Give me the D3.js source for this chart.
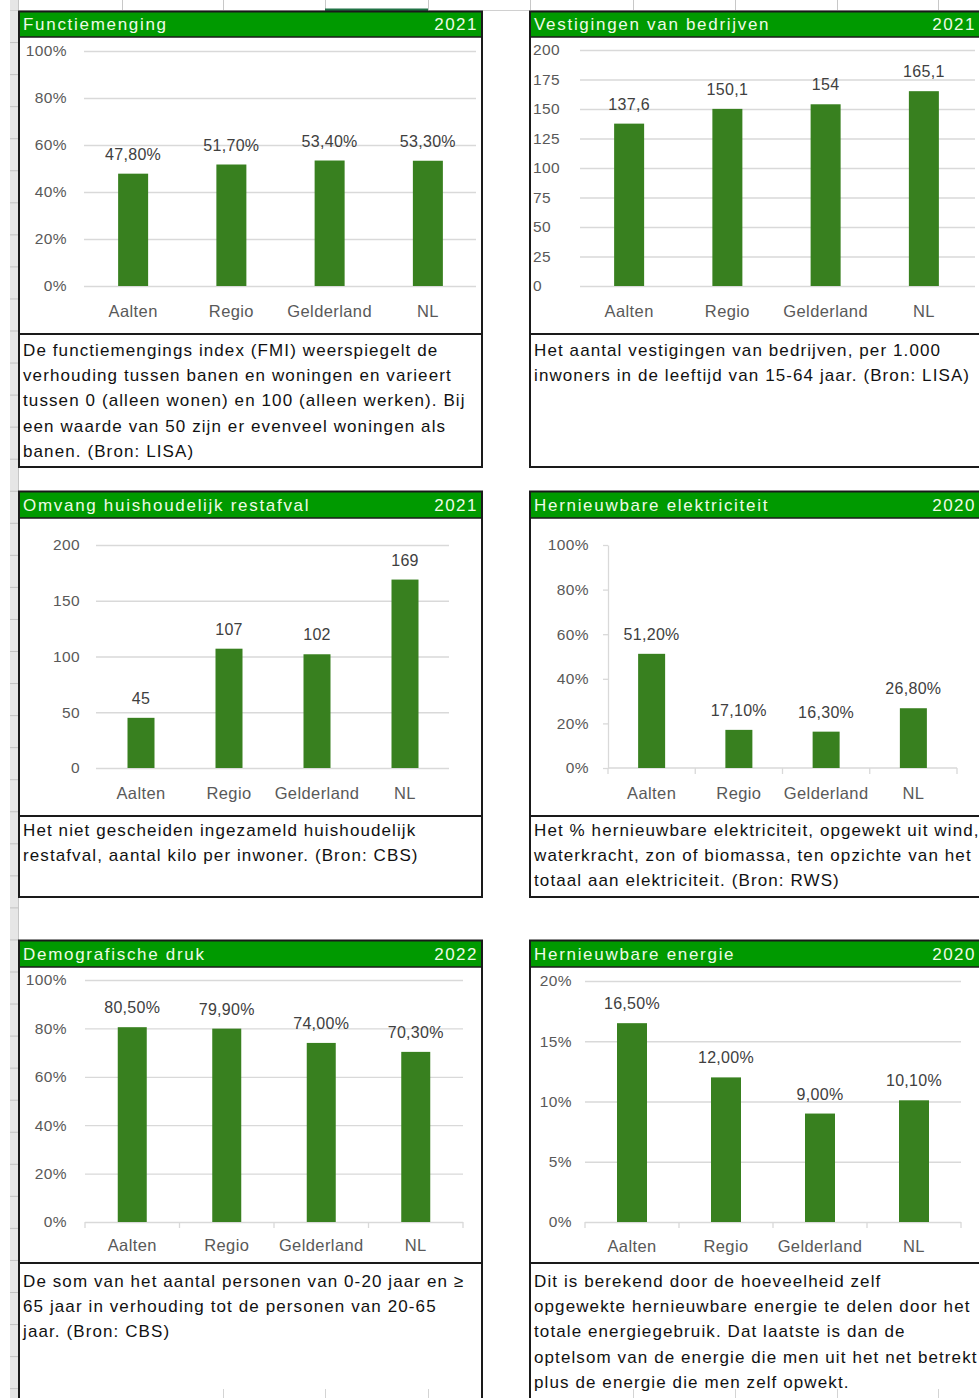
<!DOCTYPE html>
<html>
<head>
<meta charset="utf-8">
<script src="https://cdn.jsdelivr.net/npm/d3@7"></script>
<style>
  body { margin: 0; background: #fff; }
  svg { display: block; font-family: "Liberation Sans", Arial, sans-serif; }
</style>
</head>
<body>
<svg id="sheet" width="979" height="1398"></svg>
<script>
const categories = ["Aalten", "Regio", "Gelderland", "NL"];
const fmValues = [0.478, 0.517, 0.534, 0.533];
const vestigingenValues = [137.6, 150.1, 154, 165.1];
const restafvalValues = [45, 107, 102, 169];
const elektriciteitValues = [0.512, 0.171, 0.163, 0.268];
const demografieValues = [0.805, 0.799, 0.740, 0.703];
const energieValues = [0.165, 0.120, 0.090, 0.101];

// tick waarden
const pctTicks = [0, 0.2, 0.4, 0.6, 0.8, 1];
const vestigingenTicks = [0, 25, 50, 75, 100, 125, 150, 175, 200];
const restafvalTicks = [0, 50, 100, 150, 200];
const energieTicks = [0, 0.05, 0.10, 0.15, 0.20];

// titels, jaren en toelichting
const titles = ["Functiemenging", "Vestigingen van bedrijven", "Omvang huishoudelijk restafval",
  "Hernieuwbare elektriciteit", "Demografische druk", "Hernieuwbare energie"];
const years = ["2021", "2021", "2021", "2020", "2022", "2020"];
const descriptions = [
  ["De functiemengings index (FMI) weerspiegelt de", "verhouding tussen banen en woningen en varieert",
   "tussen 0 (alleen wonen) en 100 (alleen werken). Bij", "een waarde van 50 zijn er evenveel woningen als",
   "banen. (Bron: LISA)"],
  ["Het aantal vestigingen van bedrijven, per 1.000", "inwoners  in de leeftijd van 15-64 jaar. (Bron: LISA)"],
  ["Het niet gescheiden ingezameld huishoudelijk", "restafval, aantal kilo per inwoner. (Bron: CBS)"],
  ["Het % hernieuwbare elektriciteit, opgewekt uit wind,", "waterkracht, zon of biomassa, ten opzichte van het",
   "totaal aan elektriciteit. (Bron: RWS)"],
  ["De som van het aantal personen van 0-20 jaar en \u2265", "65 jaar in verhouding tot de personen van 20-65",
   "jaar. (Bron: CBS)"],
  ["Dit is  berekend door de hoeveelheid zelf", "opgewekte hernieuwbare energie te delen door het",
   "totale energiegebruik. Dat laatste is  dan de", "optelsom van de energie die men uit het net betrekt",
   "plus  de energie die men zelf opwekt."]
];

// Nederlandse getalnotatie
const nl = d3.formatLocale({decimal: ",", thousands: ".", grouping: [3], currency: ["€", ""]});
const pct0 = nl.format(".0%");
const pct2 = nl.format(".2%");
const plain = d => String(d).replace(".", ",");

const GREEN_HEAD = "#009a00";
const BAR = "#38801f";
const GRID = "#d9d9d9";
const AXIS_TXT = "#595959";

const svg = d3.select("#sheet");

// Excel rijkoppen links en kolomkoppen boven
svg.append("rect").attr("x", 10).attr("y", 0).attr("width", 8.5).attr("height", 1398).attr("fill", "#e6e6e6");
svg.append("line").attr("x1", 18.5).attr("x2", 18.5).attr("y1", 0).attr("y2", 1398).attr("stroke", "#c6c6c6");
svg.append("g").selectAll("line").data(d3.range(0, 44)).join("line")
  .attr("x1", 10).attr("x2", 18.5)
  .attr("y1", d => 10.5 + d * 32.05).attr("y2", d => 10.5 + d * 32.05)
  .attr("stroke", "#c2c2c2");
svg.append("line").attr("x1", 10).attr("x2", 979).attr("y1", 10.5).attr("y2", 10.5).attr("stroke", "#d0d0d0");
svg.append("g").selectAll("line").data([122, 223, 325, 428, 530, 633, 735, 837, 938]).join("line")
  .attr("x1", d => d + 0.5).attr("x2", d => d + 0.5).attr("y1", 0).attr("y2", 10)
  .attr("stroke", "#c8c8c8");
svg.append("rect").attr("x", 325).attr("y", 8.5).attr("width", 103).attr("height", 2.5).attr("fill", "#217346");

// onderkant: celrasterlijnen onder de tekst
svg.append("g").selectAll("line").data([223, 325, 428, 633, 735, 837, 938]).join("line")
  .attr("x1", d => d + 0.5).attr("x2", d => d + 0.5).attr("y1", 1389).attr("y2", 1398)
  .attr("stroke", "#d4d4d4");

// layout per paneel
const layout = [
  {values: fmValues, ticks: pctTicks, domain: [0, 1], tickFmt: pct0, labelFmt: pct2,
   px: 19, pw: 463, top: 11.5, headBottom: 37, chartBottom: 334, descBottom: 467, descY: 356,
   yRange: [286, 51], tickX: 67, tickAnchor: "end", grid: [84, 476], xRange: [84, 477], barW: 30,
   catY: 311, style: "grid", xTicks: false},
  {values: vestigingenValues, ticks: vestigingenTicks, domain: [0, 200], tickFmt: plain, labelFmt: plain,
   px: 530, pw: 455, top: 11.5, headBottom: 37, chartBottom: 334, descBottom: 467, descY: 356,
   yRange: [286, 50], tickX: 533, tickAnchor: "start", grid: [580, 975], xRange: [580, 973], barW: 30,
   catY: 311, style: "grid", xTicks: false},
  {values: restafvalValues, ticks: restafvalTicks, domain: [0, 200], tickFmt: plain, labelFmt: plain,
   px: 19, pw: 463, top: 491.5, headBottom: 518, chartBottom: 816, descBottom: 897, descY: 836,
   yRange: [768, 545], tickX: 80, tickAnchor: "end", grid: [96, 449], xRange: [97, 449], barW: 27,
   catY: 793, style: "grid", xTicks: false},
  {values: elektriciteitValues, ticks: pctTicks, domain: [0, 1], tickFmt: pct0, labelFmt: pct2,
   px: 530, pw: 455, top: 491.5, headBottom: 518, chartBottom: 816, descBottom: 897, descY: 836,
   yRange: [768, 545], tickX: 589, tickAnchor: "end", grid: null, xRange: [608, 957], barW: 27,
   catY: 793, style: "axis", xTicks: true},
  {values: demografieValues, ticks: pctTicks, domain: [0, 1], tickFmt: pct0, labelFmt: pct2,
   px: 19, pw: 463, top: 940.5, headBottom: 967, chartBottom: 1263, descBottom: 1430, descY: 1287,
   yRange: [1222, 980], tickX: 67, tickAnchor: "end", grid: [85, 463], xRange: [85, 463], barW: 29,
   catY: 1245, style: "grid", xTicks: true},
  {values: energieValues, ticks: energieTicks, domain: [0, 0.2], tickFmt: pct0, labelFmt: pct2,
   px: 530, pw: 455, top: 940.5, headBottom: 967, chartBottom: 1263, descBottom: 1430, descY: 1287,
   yRange: [1222, 981], tickX: 572, tickAnchor: "end", grid: [585, 961], xRange: [585, 961], barW: 30,
   catY: 1246, style: "grid", xTicks: true}
];

layout.forEach((p, i) => drawPanel(p, i));

function drawPanel(p, i) {
  const g = svg.append("g");

  // kop
  g.append("rect").attr("x", p.px).attr("y", p.top).attr("width", p.pw).attr("height", p.headBottom - p.top)
    .attr("fill", GREEN_HEAD);
  g.append("text").attr("x", p.px + 4).attr("y", (p.top + p.headBottom) / 2).attr("dy", "0.36em")
    .attr("fill", "#eefbe6").style("font-size", "17px").style("letter-spacing", "1.7px")
    .text(titles[i]);
  g.append("text").attr("x", Math.min(p.px + p.pw - 4, 976)).attr("y", (p.top + p.headBottom) / 2).attr("dy", "0.36em")
    .attr("text-anchor", "end").attr("fill", "#eefbe6").style("font-size", "17px").style("letter-spacing", "1.5px")
    .text(years[i]);

  // schalen
  const y = d3.scaleLinear().domain(p.domain).range(p.yRange);
  const x = d3.scaleBand().domain(categories).range(p.xRange).padding(0);

  // rasterlijnen
  if (p.grid) {
    const grid = g.append("g").attr("transform", `translate(${p.grid[0]},0)`)
      .call(d3.axisLeft(y).tickValues(p.ticks).tickSize(-(p.grid[1] - p.grid[0])).tickFormat(""));
    grid.select(".domain").remove();
    grid.selectAll("line").attr("stroke", GRID).attr("stroke-width", 1.3);
  } else {
    const ax = g.append("g").attr("transform", `translate(${p.xRange[0]},0)`)
      .call(d3.axisLeft(y).tickValues(p.ticks).tickSize(5).tickSizeOuter(0).tickFormat(""));
    ax.selectAll("line, path").attr("stroke", GRID).attr("stroke-width", 1.3);
    g.append("line").attr("x1", p.xRange[0]).attr("x2", p.xRange[1]).attr("y1", y(0)).attr("y2", y(0))
      .attr("stroke", GRID).attr("stroke-width", 1.3);
  }

  // tickjes op de x-as tussen de categorieën
  if (p.xTicks) {
    const bounds = categories.map(c => x(c)).concat([p.xRange[1]]);
    g.append("g").selectAll("line").data(bounds).join("line")
      .attr("x1", d => d).attr("x2", d => d).attr("y1", y(0)).attr("y2", y(0) + 6)
      .attr("stroke", GRID).attr("stroke-width", 1.3);
  }

  // y-as labels
  const yl = g.append("g").attr("transform", `translate(${p.tickX},0)`)
    .call(d3.axisLeft(y).tickValues(p.ticks).tickFormat(p.tickFmt).tickSize(0).tickPadding(0));
  yl.select(".domain").remove();
  yl.selectAll("text").attr("text-anchor", p.tickAnchor).attr("fill", AXIS_TXT)
    .style("font-size", "15.5px").style("letter-spacing", "0.4px")
    .style("font-family", "Liberation Sans, Arial, sans-serif");

  // staven
  g.append("g").selectAll("rect").data(p.values).join("rect")
    .attr("x", (d, k) => x(categories[k]) + x.bandwidth() / 2 - p.barW / 2)
    .attr("y", d => y(d))
    .attr("width", p.barW)
    .attr("height", d => y(0) - y(d))
    .attr("fill", BAR);

  // waardelabels
  g.append("g").selectAll("text").data(p.values).join("text")
    .attr("x", (d, k) => x(categories[k]) + x.bandwidth() / 2)
    .attr("y", d => y(d) - 14)
    .attr("text-anchor", "middle").attr("fill", "#404040")
    .style("font-size", "16px").style("letter-spacing", "0.3px")
    .text(d => p.labelFmt(d));

  // categorie labels
  const xl = g.append("g").attr("transform", `translate(0,${p.catY})`)
    .call(d3.axisBottom(x).tickSize(0).tickPadding(0));
  xl.select(".domain").remove();
  xl.selectAll("text").attr("y", 0).attr("dy", "0.36em").attr("fill", AXIS_TXT)
    .style("font-size", "16.5px").style("letter-spacing", "0.4px")
    .style("font-family", "Liberation Sans, Arial, sans-serif");

  // toelichting
  g.append("g").selectAll("text").data(descriptions[i]).join("text")
    .attr("x", p.px + 4).attr("y", (d, k) => p.descY + k * 25.2)
    .attr("fill", "#111").style("font-size", "17px").style("letter-spacing", "1.1px")
    .text(d => d);

  // randen
  const border = "#1a1a1a";
  g.append("rect").attr("x", p.px).attr("y", p.top).attr("width", p.pw).attr("height", p.descBottom - p.top)
    .attr("fill", "none").attr("stroke", border).attr("stroke-width", 2);
  g.append("line").attr("x1", p.px).attr("x2", p.px + p.pw).attr("y1", p.headBottom).attr("y2", p.headBottom)
    .attr("stroke", border).attr("stroke-width", 1.5);
  g.append("line").attr("x1", p.px).attr("x2", p.px + p.pw).attr("y1", p.chartBottom).attr("y2", p.chartBottom)
    .attr("stroke", border).attr("stroke-width", 2);
}
</script>
</body>
</html>
